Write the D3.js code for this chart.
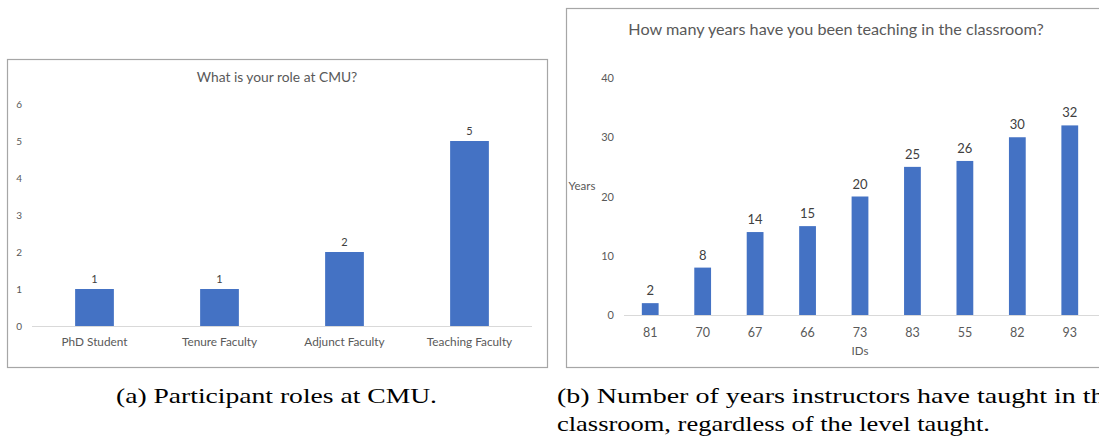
<!DOCTYPE html>
<html>
<head>
<meta charset="utf-8">
<script src="https://cdn.jsdelivr.net/npm/d3@7"></script>
<style>
  body { margin: 0; background: #fff; }
  svg { display: block; }
  .tick text { fill: #595959; }
</style>
</head>
<body>
<div id="chart"></div>
<script>
// panel (a) data
var roleNames = ["PhD Student", "Tenure Faculty", "Adjunct Faculty", "Teaching Faculty"];
var roleCounts = [1, 1, 2, 5];
var roleTicks = [0, 1, 2, 3, 4, 5, 6];

// panel (b) data
var teacherIds = ["81", "70", "67", "66", "73", "83", "55", "82", "93"];
var teachingYears = [2, 8, 14, 15, 20, 25, 26, 30, 32];
var yearTicks = [0, 10, 20, 30, 40];

var barColor = "#4472C4";
var font = "Lato, 'Open Sans', sans-serif";

var svg = d3.select("#chart").append("svg")
    .attr("width", 1099)
    .attr("height", 439);

/**
 * Draws one excel-style bar chart panel
 */
function drawPanel(opt) {
    var g = svg.append("g");

    // frame
    g.append("rect")
        .attr("x", opt.box[0] + 0.5).attr("y", opt.box[1] + 0.5)
        .attr("width", opt.box[2]).attr("height", opt.box[3])
        .attr("fill", "none").attr("stroke", "#a6a6a6").attr("stroke-width", 1.2);

    g.append("text")
        .attr("x", opt.titleX).attr("y", opt.titleY)
        .attr("text-anchor", "middle")
        .attr("font-family", font).attr("font-size", opt.titleSize)
        .attr("fill", "#595959")
        .text(opt.title);

    var x = d3.scaleBand()
        .domain(opt.cats)
        .range(opt.xRange)
        .paddingInner(opt.pad).paddingOuter(opt.pad / 2);

    var y = d3.scaleLinear()
        .domain([0, d3.max(opt.ticks)])
        .range(opt.yRange);

    // y axis labels only
    var yAxis = g.append("g")
        .attr("transform", "translate(" + opt.yAxisX + ",0)")
        .call(d3.axisLeft(y).tickValues(opt.ticks).tickFormat(d3.format("d")).tickSize(0).tickPadding(0));
    yAxis.select(".domain").remove();
    yAxis.selectAll("text")
        .attr("font-family", font).attr("font-size", opt.tickSize);

    // baseline
    g.append("line")
        .attr("x1", opt.xRange[0]).attr("x2", opt.lineEnd)
        .attr("y1", y(0) + 0.5).attr("y2", y(0) + 0.5)
        .attr("stroke", "#d9d9d9").attr("stroke-width", 1.2);

    // category labels
    var xAxis = g.append("g")
        .attr("transform", "translate(0," + y(0) + ")")
        .call(d3.axisBottom(x).tickSize(0).tickPadding(opt.catPad));
    xAxis.select(".domain").remove();
    xAxis.selectAll("text")
        .attr("font-family", font).attr("font-size", opt.catSize);

    g.selectAll(".bar")
        .data(opt.values)
        .enter()
        .append("rect")
        .attr("class", "bar")
        .attr("x", function(d, i){ return x(opt.cats[i]); })
        .attr("y", function(d){ return y(d); })
        .attr("width", x.bandwidth())
        .attr("height", function(d){ return y(0) - y(d); })
        .attr("fill", barColor);

    g.selectAll(".val")
        .data(opt.values)
        .enter()
        .append("text")
        .attr("class", "val")
        .attr("x", function(d, i){ return x(opt.cats[i]) + x.bandwidth() / 2; })
        .attr("y", function(d){ return y(d) - opt.valGap; })
        .attr("text-anchor", "middle")
        .attr("font-family", font).attr("font-size", opt.valSize)
        .attr("fill", "#404040")
        .text(function(d){ return d; });

    return g;
}

drawPanel({
    box: [7, 59, 540, 308],
    title: "What is your role at CMU?",
    titleX: 277, titleY: 82, titleSize: 13.8,
    cats: roleNames, values: roleCounts, ticks: roleTicks,
    xRange: [32, 532], pad: 0.69,
    yRange: [326, 104],
    yAxisX: 22, tickSize: 10,
    lineEnd: 532, catPad: 12, catSize: 11.8,
    valGap: 6, valSize: 11
});

var right = drawPanel({
    box: [566, 8, 540, 359],
    title: "How many years have you been teaching in the classroom?",
    titleX: 836, titleY: 35, titleSize: 16.2,
    cats: teacherIds, values: teachingYears, ticks: yearTicks,
    xRange: [624, 1096], pad: 0.68,
    yRange: [315, 78],
    yAxisX: 614, tickSize: 11,
    lineEnd: 1099, catPad: 13, catSize: 12.5,
    valGap: 8, valSize: 13
});

right.append("text")
    .attr("x", 582).attr("y", 190)
    .attr("text-anchor", "middle")
    .attr("font-family", font).attr("font-size", 11.5)
    .attr("fill", "#595959")
    .text("Years");

right.append("text")
    .attr("x", 860).attr("y", 355)
    .attr("text-anchor", "middle")
    .attr("font-family", font).attr("font-size", 11.5)
    .attr("fill", "#595959")
    .text("IDs");

// captions
var capFont = "'Liberation Serif', 'DejaVu Serif', serif";
svg.append("text")
    .attr("x", 116).attr("y", 403)
    .attr("font-family", capFont).attr("font-size", 21)
    .attr("fill", "#000")
    .attr("textLength", 321).attr("lengthAdjust", "spacingAndGlyphs")
    .text("(a) Participant roles at CMU.");

svg.append("text")
    .attr("x", 557).attr("y", 403)
    .attr("font-family", capFont).attr("font-size", 21)
    .attr("fill", "#000")
    .attr("textLength", 560).attr("lengthAdjust", "spacingAndGlyphs")
    .text("(b) Number of years instructors have taught in the");

svg.append("text")
    .attr("x", 557).attr("y", 431)
    .attr("font-family", capFont).attr("font-size", 21)
    .attr("fill", "#000")
    .attr("textLength", 433).attr("lengthAdjust", "spacingAndGlyphs")
    .text("classroom, regardless of the level taught.");
</script>
</body>
</html>
